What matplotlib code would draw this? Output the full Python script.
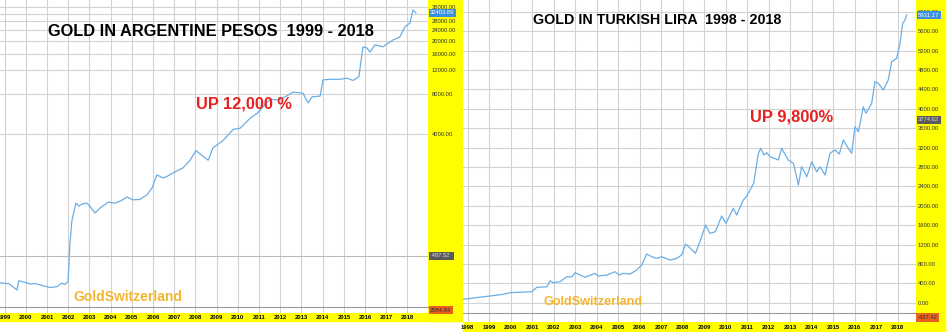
import matplotlib.pyplot as plt
from matplotlib.patches import Rectangle

plt.rcParams['font.family'] = ['Liberation Sans', 'DejaVu Sans']

# gold priced in Argentine pesos (decimal year, price)
arg_t = [1998.78, 1999.20, 1999.58, 1999.67, 2000.05, 2000.25, 2000.43, 2000.60, 2000.76,
         2001.14, 2001.47, 2001.70, 2001.84, 2001.99, 2002.08, 2002.17, 2002.36, 2002.50,
         2002.65, 2002.88, 2003.07, 2003.26, 2003.50, 2003.88, 2004.21, 2004.49, 2004.77,
         2005.05, 2005.38, 2005.71, 2005.95, 2006.18, 2006.47, 2006.66, 2007.03, 2007.41,
         2007.75, 2008.02, 2008.31, 2008.60, 2008.83, 2009.30, 2009.78, 2010.11, 2010.58,
         2010.91, 2011.19, 2011.52, 2011.85, 2012.13, 2012.60, 2013.07, 2013.31, 2013.50,
         2013.88, 2014.02, 2014.35, 2014.82, 2015.15, 2015.43, 2015.71, 2015.90, 2016.09,
         2016.23, 2016.47, 2016.84, 2017.31, 2017.64, 2017.88, 2018.12, 2018.26, 2018.40]
arg_v = [305, 300, 269, 316, 304, 298, 301, 296, 291,
         281, 285, 303, 296, 311, 600, 890, 1210, 1150,
         1190, 1210, 1120, 1020, 1110, 1230, 1210, 1260, 1345,
         1280, 1290, 1393, 1570, 1970, 1870, 1920, 2075, 2220,
         2540, 3000, 2760, 2540, 3150, 3570, 4330, 4420, 5250,
         5720, 6400, 7300, 7200, 7450, 8250, 8100, 6850, 7600,
         7700, 10200, 10300, 10300, 10500, 10100, 10750, 18050, 17700,
         16500, 18700, 18050, 20300, 21400, 25500, 27300, 34200, 32450]

# gold priced in Turkish lira
try_t = [1997.79, 1998.50, 1999.00, 1999.65, 1999.98, 2000.99, 2001.22, 2001.70, 2001.84,
         2001.98, 2002.30, 2002.62, 2002.85, 2003.00, 2003.47, 2003.93, 2004.07, 2004.48,
         2004.86, 2005.05, 2005.25, 2005.56, 2005.87, 2006.10, 2006.33, 2006.57, 2006.80,
         2007.03, 2007.42, 2007.73, 2007.96, 2008.14, 2008.29, 2008.60, 2008.84, 2009.07,
         2009.27, 2009.53, 2009.82, 2010.02, 2010.36, 2010.52, 2010.83, 2010.99, 2011.31,
         2011.53, 2011.64, 2011.79, 2011.92, 2012.07, 2012.46, 2012.61, 2012.92, 2013.16,
         2013.39, 2013.54, 2013.78, 2014.01, 2014.24, 2014.40, 2014.63, 2014.86, 2015.09,
         2015.29, 2015.48, 2015.71, 2015.87, 2016.02, 2016.18, 2016.41, 2016.53, 2016.80,
         2016.95, 2017.11, 2017.34, 2017.57, 2017.73, 2017.96, 2018.12, 2018.24, 2018.35, 2018.43]
try_v = [70, 110, 135, 173, 206, 227, 317, 330, 454,
         412, 433, 536, 530, 619, 524, 606, 550, 571,
         639, 571, 606, 592, 674, 777, 1004, 948, 915,
         948, 880, 915, 984, 1210, 1155, 1019, 1293, 1602,
         1431, 1464, 1788, 1637, 1947, 1808, 2118, 2200, 2462,
         3081, 3184, 3046, 3093, 3011, 2943, 3184, 2943, 2874,
         2427, 2804, 2598, 2907, 2701, 2804, 2633, 3081, 3149,
         3066, 3355, 3184, 3081, 3629, 3526, 4041, 3905, 4112,
         4557, 4524, 4386, 4592, 4970, 5039, 5349, 5761, 5829, 5932]

arg_years = list(range(1999, 2019))
try_years = list(range(1998, 2019))
arg_ticks = list(range(4000, 36001, 4000))
try_ticks = list(range(0, 6001, 400))

W, H = 950, 332
YEL = '#ffff00'
GRID = '#d2d2d2'
LINE = '#6aaee6'

fig = plt.figure(figsize=(W / 100, H / 100), dpi=100)


def box(x0, y0, x1, y1):
    return [x0 / W, 1 - y1 / H, (x1 - x0) / W, (y1 - y0) / H]


def strip(x0, y0, x1, y1, c):
    fig.patches.append(Rectangle((x0 / W, 1 - y1 / H), (x1 - x0) / W, (y1 - y0) / H,
                                 transform=fig.transFigure, color=c, zorder=-10))


def tag(ax, y, text, fc, tc):
    ax.annotate(text, xy=(1.0, y), xycoords=('axes fraction', 'data'),
                xytext=(1.5, 0), textcoords='offset points', ha='left', va='center',
                fontsize=4.2, color=tc, annotation_clip=False, zorder=5,
                bbox=dict(boxstyle='square,pad=0.25', fc=fc, ec='none'))


strip(428, 0, 463, 321, YEL)
strip(0, 313, 463, 321, YEL)
strip(916, 0, 945, 332, YEL)
strip(463, 322, 945, 332, YEL)

# ---- left: Argentina ----
ax1 = fig.add_axes(box(0, 0, 428, 307))
ax1.plot(arg_t, arg_v, color=LINE, lw=0.9)
ax1.set_yscale('log')
ax1.set_ylim(200.5, 40600)
ax1.set_xlim(1998.78, 2018.97)
ax1.set_yticks(arg_ticks)
ax1.set_yticklabels([f'{v:.2f}' if v != 32000 else '' for v in arg_ticks])
ax1.yaxis.set_minor_locator(plt.NullLocator())
ax1.set_xticks(arg_years)
ax1.set_xticklabels([])
ax1.yaxis.tick_right()
ax1.tick_params(axis='y', length=0, pad=2.5, labelsize=4.2, labelcolor='#333333')
ax1.tick_params(axis='x', length=0)
ax1.grid(True, color=GRID, lw=0.8)
ax1.axhline(487.52, color='#bbbbbb', lw=0.8)
for s in ax1.spines.values():
    s.set_visible(False)
ax1.text(48 / 428, 1 - 32 / 307, 'GOLD IN ARGENTINE PESOS  1999 - 2018', transform=ax1.transAxes,
         fontsize=11.8, fontweight='bold', color='black', va='center', ha='left')
ax1.text(196 / 428, 1 - 104 / 307, 'UP 12,000 %', transform=ax1.transAxes,
         fontsize=11.8, fontweight='bold', color='#e8201f', va='center', ha='left')
ax1.text(73 / 428, 1 - 297 / 307, 'GoldSwitzerland', transform=ax1.transAxes,
         fontsize=10, fontweight='bold', color='#f2b630', va='center', ha='left')
tag(ax1, arg_v[-1], '32403.89', '#3b8fe0', 'white')
tag(ax1, 487.52, ' 487.52  ', '#5a5a5a', '#dddddd')

sub1 = fig.add_axes(box(0, 307, 428, 313))
sub1.set_xlim(ax1.get_xlim())
sub1.set_yticks([])
sub1.set_xticks(arg_years)
sub1.set_xticklabels([str(y) for y in arg_years], fontsize=4.2, fontweight='bold')
sub1.tick_params(axis='x', length=0, pad=1.2)
sub1.grid(True, axis='x', color=GRID, lw=0.8)
for k, s in sub1.spines.items():
    s.set_visible(k == 'top')
sub1.spines['top'].set_color('#999999')
sub1.annotate('2984.84', xy=(1.0, 0.5), xycoords='axes fraction', xytext=(1.5, 0),
              textcoords='offset points', ha='left', va='center', fontsize=4.2, color='#333333',
              annotation_clip=False, bbox=dict(boxstyle='square,pad=0.25', fc='#e8601c', ec='none'))

# ---- right: Turkey ----
ax2 = fig.add_axes(box(463, 0, 916, 313))
ax2.plot(try_t, try_v, color=LINE, lw=0.9)
ax2.set_ylim(-212, 6242)
ax2.set_xlim(1997.79, 2018.86)
ax2.set_yticks(try_ticks)
ax2.set_yticklabels([f'{v:.2f}' for v in try_ticks])
ax2.set_xticks(try_years)
ax2.set_xticklabels([])
ax2.yaxis.tick_right()
ax2.tick_params(axis='y', length=0, pad=1.0, labelsize=4.2, labelcolor='#333333')
ax2.tick_params(axis='x', length=0)
ax2.grid(True, color=GRID, lw=0.8)
for s in ax2.spines.values():
    s.set_visible(False)
ax2.text((533 - 463) / 453, 1 - 20 / 313, 'GOLD IN TURKISH LIRA  1998 - 2018', transform=ax2.transAxes,
         fontsize=10.3, fontweight='bold', color='black', va='center', ha='left')
ax2.text((750 - 463) / 453, 1 - 117 / 313, 'UP 9,800%', transform=ax2.transAxes,
         fontsize=11.9, fontweight='bold', color='#e8201f', va='center', ha='left')
ax2.text((543 - 463) / 453, 1 - 302 / 313, 'GoldSwitzerland', transform=ax2.transAxes,
         fontsize=9.1, fontweight='bold', color='#f2b630', va='center', ha='left')
tag(ax2, try_v[-1], '5931.17', '#3b8fe0', 'white')
tag(ax2, 3774.62, '3774.62', '#5a5a5a', '#dddddd')

sub2 = fig.add_axes(box(463, 313, 916, 322))
sub2.set_xlim(ax2.get_xlim())
sub2.set_yticks([])
sub2.set_xticks(try_years)
sub2.set_xticklabels([str(y) for y in try_years], fontsize=4.2, fontweight='bold')
sub2.tick_params(axis='x', length=0, pad=2.5)
sub2.grid(True, axis='x', color=GRID, lw=0.8)
for k, s in sub2.spines.items():
    s.set_visible(k == 'top')
sub2.spines['top'].set_color('#999999')
sub2.annotate('-427.42', xy=(1.0, 0.5), xycoords='axes fraction', xytext=(1.0, 0),
              textcoords='offset points', ha='left', va='center', fontsize=4.2, color='#333333',
              annotation_clip=False, bbox=dict(boxstyle='square,pad=0.3', fc='#e8601c', ec='none'))

fig.savefig('out.png', dpi=100)
